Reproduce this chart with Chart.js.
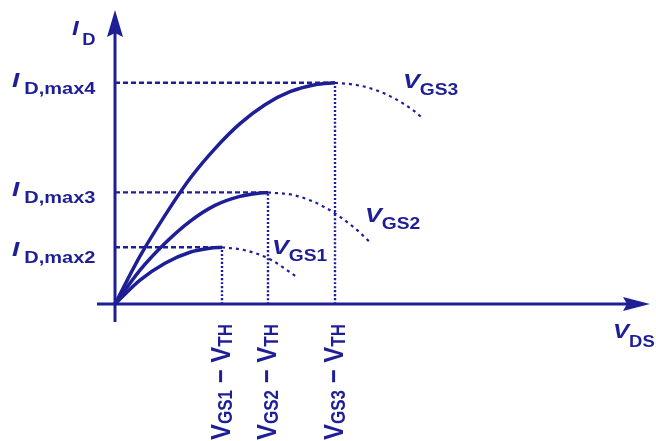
<!DOCTYPE html>
<html>
<head>
<meta charset="utf-8">
<script src="https://cdn.jsdelivr.net/npm/chart.js@4.4.1/dist/chart.umd.min.js"></script>
<style>
    html, body { margin: 0; padding: 0; background: #fff; }
    #wrap { width: 656px; height: 441px; position: relative; }
</style>
</head>
<body>
<div id="wrap"><canvas id="iv_chart"></canvas></div>
<script>
// output curves (x = V_DS, y = I_D, arbitrary units)
const vds1 = [0, 0.25, 0.5, 0.75, 0.95, 1.07];
const id1 = [0, 0.24, 0.41, 0.52, 0.56, 0.57];
const vds1Ext = [1.07, 1.3, 1.55, 1.82];
const id1Ext = [0.57, 0.54, 0.45, 0.27];

const vds2 = [0, 0.25, 0.5, 0.75, 1.0, 1.25, 1.42, 1.53];
const id2 = [0, 0.34, 0.61, 0.83, 0.99, 1.08, 1.11, 1.12];
const vds2Ext = [1.53, 1.8, 2.1, 2.4, 2.55];
const id2Ext = [1.12, 1.09, 0.97, 0.76, 0.62];

const vds3 = [0, 0.25, 0.5, 0.75, 1.0, 1.25, 1.5, 1.75, 2.0, 2.2];
const id3 = [0, 0.48, 0.89, 1.26, 1.56, 1.81, 2.0, 2.13, 2.2, 2.22];
const vds3Ext = [2.2, 2.4, 2.6, 2.8, 3.0, 3.08];
const id3Ext = [2.22, 2.2, 2.15, 2.06, 1.93, 1.86];

// pinch-off points (V_GS - V_TH, I_D,max)
const vSat = [1.07, 1.53, 2.2];
const idMax = [0.57, 1.12, 2.22];

const idMaxLabels = ['D,max2', 'D,max3', 'D,max4'];
const gsLabels = ['GS1', 'GS2', 'GS3'];

const navy = '#1e1e96';

const pts = (xs, ys) => xs.map((x, i) => ({x: x, y: ys[i]}));

const solid = (xs, ys) => ({
    data: pts(xs, ys),
    borderColor: navy,
    borderWidth: 3.5,
    pointRadius: 0,
    cubicInterpolationMode: 'monotone',
    fill: false
});
const dotted = (xs, ys, dash, width) => ({
    data: pts(xs, ys),
    borderColor: navy,
    borderWidth: width,
    borderDash: dash,
    pointRadius: 0,
    cubicInterpolationMode: 'monotone',
    fill: false
});

const datasets = [];
vSat.forEach((v, i) => {
    datasets.push(dotted([0, v], [idMax[i], idMax[i]], [5, 3], 2.4));
    datasets.push(dotted([v, v], [0, idMax[i]], [2, 2], 2.4));
});
datasets.push(dotted(vds1Ext, id1Ext, [3, 4], 2.2));
datasets.push(dotted(vds2Ext, id2Ext, [3, 4], 2.2));
datasets.push(dotted(vds3Ext, id3Ext, [3, 4], 2.2));
datasets.push(solid(vds1, id1));
datasets.push(solid(vds2, id2));
datasets.push(solid(vds3, id3));

function drawRuns(ctx, x, y, runs, rotated, stretch) {
    ctx.save();
    ctx.translate(x, y);
    if (rotated) {
        ctx.rotate(-Math.PI / 2);
        ctx.scale(1, stretch);
    } else {
        ctx.scale(stretch, 1);
    }
    ctx.fillStyle = navy;
    ctx.textBaseline = 'alphabetic';
    let cx = 0;
    runs.forEach(r => {
        ctx.font = r.font;
        ctx.fillText(r.text, cx + (r.dx || 0), r.dy || 0);
        cx += ctx.measureText(r.text).width + (r.dx || 0);
    });
    ctx.restore();
}

const italicBig = 'italic bold 21px "Liberation Sans", Arial, sans-serif';
const boldSub = 'bold 16px "Liberation Sans", Arial, sans-serif';
const boldBig = 'bold 24px "Liberation Sans", Arial, sans-serif';
const boldRotSub = 'bold 17px "Liberation Sans", Arial, sans-serif';

const axesPlugin = {
    id: 'axesPlugin',
    beforeDatasetsDraw(chart) {
        const ctx = chart.ctx;
        const xs = chart.scales.x;
        const ys = chart.scales.y;
        const x0 = xs.getPixelForValue(0);
        const y0 = ys.getPixelForValue(0);
        const left = xs.getPixelForValue(xs.min);
        const right = xs.getPixelForValue(xs.max);
        const top = ys.getPixelForValue(ys.max);
        const bottom = ys.getPixelForValue(ys.min);
        ctx.save();
        ctx.strokeStyle = navy;
        ctx.fillStyle = navy;
        ctx.lineWidth = 3;
        ctx.beginPath();
        ctx.moveTo(x0, bottom);
        ctx.lineTo(x0, top + 22);
        ctx.moveTo(left, y0);
        ctx.lineTo(right - 22, y0);
        ctx.stroke();
        // arrow heads
        ctx.beginPath();
        ctx.moveTo(x0, top);
        ctx.lineTo(x0 + 8, top + 27);
        ctx.lineTo(x0, top + 23);
        ctx.lineTo(x0 - 8, top + 27);
        ctx.closePath();
        ctx.fill();
        ctx.beginPath();
        ctx.moveTo(right, y0);
        ctx.lineTo(right - 27, y0 - 7);
        ctx.lineTo(right - 23, y0);
        ctx.lineTo(right - 27, y0 + 7);
        ctx.closePath();
        ctx.fill();
        ctx.restore();
    },
    afterDraw(chart) {
        const ctx = chart.ctx;
        const xs = chart.scales.x;
        const ys = chart.scales.y;
        const x0 = xs.getPixelForValue(0);
        const top = ys.getPixelForValue(ys.max);
        const right = xs.getPixelForValue(xs.max);
        const y0 = ys.getPixelForValue(0);

        // axis titles
        drawRuns(ctx, x0 - 43, top + 25, [
            {text: 'I', font: italicBig},
            {text: 'D', font: boldSub, dx: 3, dy: 10}
        ], false, 1.15);
        drawRuns(ctx, right - 37, y0 + 34, [
            {text: 'V', font: italicBig},
            {text: 'DS', font: boldSub, dx: 0, dy: 9}
        ], false, 1.15);

        // I_D,max labels on the left
        const idOffsets = [9, 4, 4];
        idMax.forEach((v, i) => {
            const py = ys.getPixelForValue(v) + idOffsets[i];
            drawRuns(ctx, 12, py, [
                {text: 'I', font: italicBig},
                {text: idMaxLabels[i], font: boldSub, dx: 4, dy: 7}
            ], false, 1.25);
        });

        // V_GS labels beside the curves
        const gsPos = [[1.57, 0.50], [2.5, 0.82], [2.88, 2.17]];
        gsPos.forEach((p, i) => {
            drawRuns(ctx, xs.getPixelForValue(p[0]), ys.getPixelForValue(p[1]), [
                {text: 'V', font: italicBig},
                {text: gsLabels[i], font: boldSub, dx: 0, dy: 7}
            ], false, 1.2);
        });

        // rotated V_GSn - V_TH labels under the x axis
        vSat.forEach((v, i) => {
            const px = xs.getPixelForValue(v) + 8;
            drawRuns(ctx, px, y0 + 136, [
                {text: 'V', font: boldBig},
                {text: gsLabels[i], font: boldRotSub, dy: 2},
                {text: ' \u2212 ', font: boldBig},
                {text: 'V', font: boldBig},
                {text: 'TH', font: boldRotSub, dy: 2}
            ], true, 1.15);
        });
    }
};

const ctx = document.getElementById('iv_chart').getContext('2d');
const ivChart = new Chart(ctx, {
    type: 'line',
    data: {datasets: datasets},
    options: {
        responsive: true,
        maintainAspectRatio: false,
        animation: false,
        layout: {padding: {left: 97, right: 6, top: 10, bottom: 119}},
        scales: {
            x: {type: 'linear', min: -0.18, max: 5.35, display: false},
            y: {type: 'linear', min: -0.18, max: 2.95, display: false}
        },
        plugins: {
            legend: {display: false},
            tooltip: {enabled: false}
        },
        elements: {line: {borderCapStyle: 'butt'}}
    },
    plugins: [axesPlugin]
});
</script>
</body>
</html>
